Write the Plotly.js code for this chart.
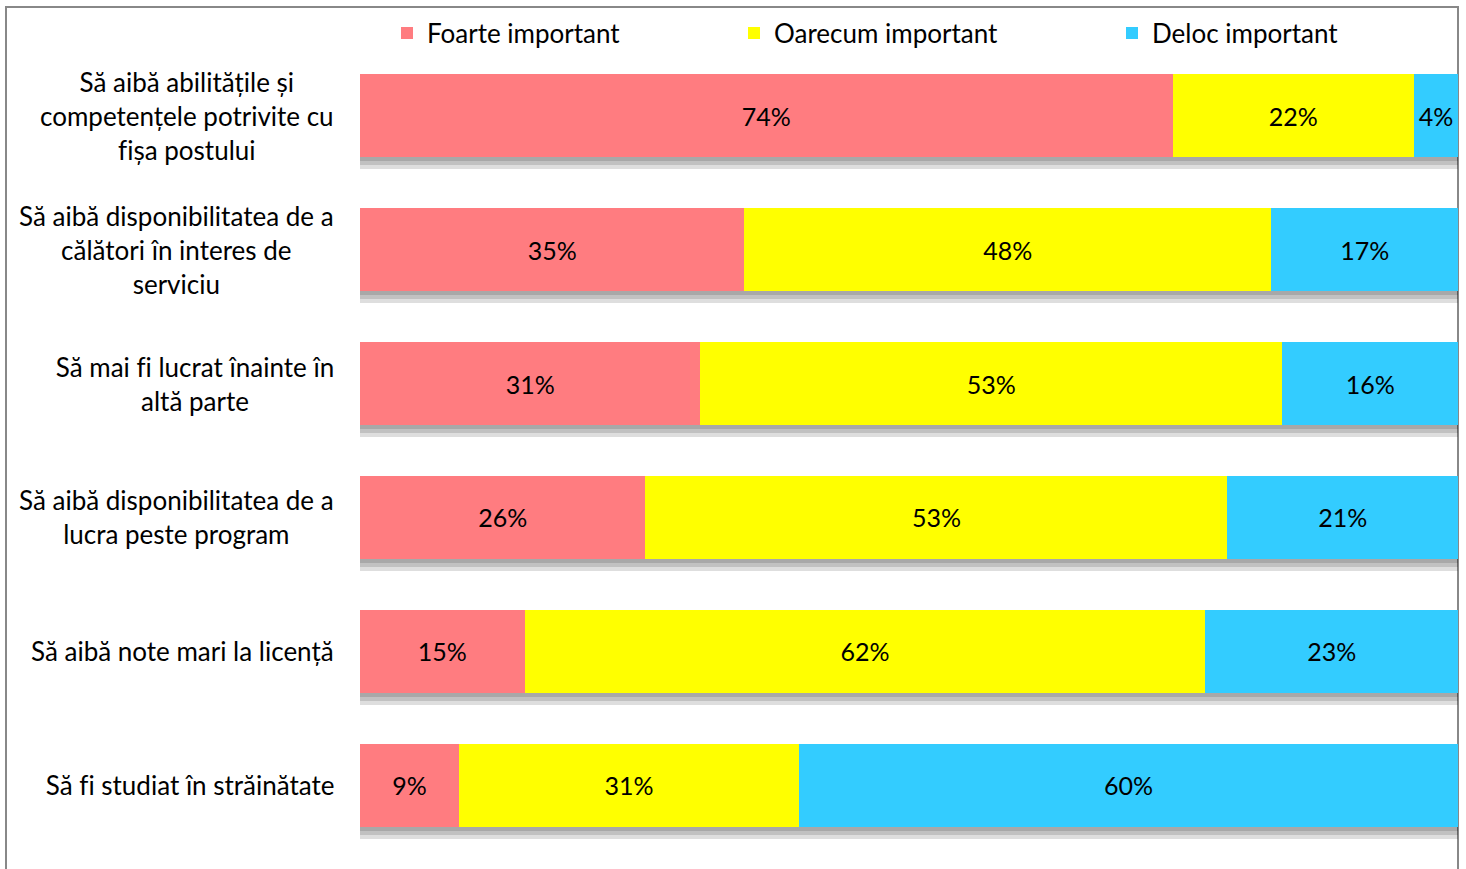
<!DOCTYPE html>
<html>
<head>
<meta charset="utf-8">
<script src="https://cdn.plot.ly/plotly-3.0.1.min.js"></script>
<style>html,body{margin:0;padding:0;background:#fff;}#chart{width:1466px;height:869px;}
#chart text{font-variant-ligatures:none;font-feature-settings:"liga" 0;}</style>
</head>
<body>
<div id="chart"></div>
<script>
const categories = [
  "Să aibă abilitățile și<br>competențele potrivite cu<br>fișa postului",
  "Să aibă disponibilitatea de a<br>călători în interes de<br>serviciu",
  "Să mai fi lucrat înainte în<br>altă parte",
  "Să aibă disponibilitatea de a<br>lucra peste program",
  "Să aibă note mari la licență",
  "Să fi studiat în străinătate"
];
const seriesNames = ["Foarte important", "Oarecum important", "Deloc important"];
const foarte = [74, 35, 31, 26, 15, 9];
const oarecum = [22, 48, 53, 53, 62, 31];
const deloc = [4, 17, 16, 21, 23, 60];
const seriesValues = [foarte, oarecum, deloc];
const colors = ["#FF7C80", "#FFFF00", "#33CCFF"];

const W = 1466, H = 869;
const M = {l: 360, r: 8, t: 49, b: 17};
const plotW = W - M.l - M.r, plotH = H - M.t - M.b;
const unitPx = plotH / categories.length;
const FONT = "Lato, 'Liberation Sans', sans-serif";

function shiftedRange(off) {
  const d = off / unitPx;
  return [categories.length - 0.5 - d, -0.5 - d];
}

const traces = [];
// shadow layers (drawn first, underneath)
const shadowOffsets = [12, 8, 4];
const shadowAxes = ["y", "y2", "y3"];
shadowOffsets.forEach((off, li) => {
  seriesValues.forEach((vals) => {
    traces.push({
      type: "bar", orientation: "h",
      x: vals, y: categories, yaxis: shadowAxes[li],
      marker: {color: "rgba(0,0,0,0.13)", line: {width: 0}},
      width: 0.62, showlegend: false, hoverinfo: "skip"
    });
  });
});
const legendIds = ["legend", "legend2", "legend3"];
seriesValues.forEach((vals, si) => {
  traces.push({
    type: "bar", orientation: "h",
    name: seriesNames[si],
    x: vals, y: categories, yaxis: "y4",
    marker: {color: colors[si], line: {width: 0}},
    width: 0.62,
    text: vals.map(v => v + "%"),
    texttemplate: "%{text}",
    textposition: "inside",
    insidetextanchor: "middle",
    textangle: 0,
    constraintext: "none",
    textfont: {family: FONT, size: 25, color: "#000"},
    legend: legendIds[si]
  });
});

const annotations = categories.map(c => ({
  xref: "paper", yref: "y4", x: 0, y: c,
  xanchor: "right", yanchor: "middle", xshift: -24,
  align: "center", showarrow: false,
  text: c,
  font: {family: FONT, size: 26, color: "#000"}
}));

const legendTextX = [428, 775, 1153];
const legendY = 1 + (M.t - 33) / plotH;
const legendCommon = {
  orientation: "h", xanchor: "left", yanchor: "middle", y: legendY,
  bgcolor: "rgba(0,0,0,0)", borderwidth: 0,
  font: {family: FONT, size: 26, color: "#000"}, itemwidth: 30
};
const hiddenAxis = {type: "category", showgrid: false, zeroline: false, showticklabels: false, ticks: "", showline: false};
const layout = {
  width: W, height: H,
  margin: M,
  paper_bgcolor: "#fff", plot_bgcolor: "#fff",
  barmode: "stack", bargap: 0.38,
  showlegend: true,
  xaxis: {range: [0, 100], showgrid: false, zeroline: false, showticklabels: false, ticks: "", fixedrange: true},
  yaxis: Object.assign({}, hiddenAxis, {range: shiftedRange(12)}),
  yaxis2: Object.assign({}, hiddenAxis, {overlaying: "y", range: shiftedRange(8)}),
  yaxis3: Object.assign({}, hiddenAxis, {overlaying: "y", range: shiftedRange(4)}),
  yaxis4: Object.assign({}, hiddenAxis, {overlaying: "y", range: shiftedRange(0)}),
  annotations: annotations,
  shapes: [{
    type: "path", xref: "paper", yref: "paper", layer: "below",
    path: (() => {
      const x0 = (6 - M.l) / plotW, x1 = 1, y0 = -M.b / plotH - 0.01, yTop = 1 + (M.t - 7) / plotH;
      return `M ${x0} ${y0} L ${x0} ${yTop} L ${x1} ${yTop} L ${x1} ${y0}`;
    })(),
    line: {color: "#888", width: 2}
  }]
};
legendIds.forEach((id, i) => {
  layout[id] = Object.assign({}, legendCommon, {x: (legendTextX[i] - 41 - M.l) / plotW});
});

Plotly.newPlot("chart", traces, layout, {displayModeBar: false, staticPlot: true});
</script>
</body>
</html>
